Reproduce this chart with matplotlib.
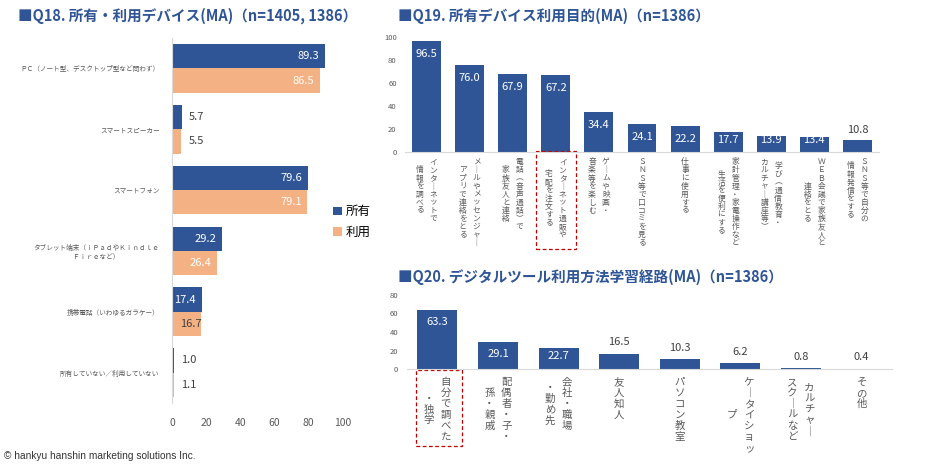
import matplotlib
matplotlib.use('Agg')
import numpy as np
import matplotlib.pyplot as plt
from matplotlib.patches import Rectangle
from matplotlib.transforms import blended_transform_factory

plt.rcParams['font.family'] = ['Noto Sans CJK JP', 'DejaVu Sans']

BLUE = '#2F5597'
ORANGE = '#F4B183'
GRAY = '#595959'
DARK = '#404040'
LINE = '#D9D9D9'

# Q18 data
devices = ['ＰＣ（ノート型、デスクトップ型など問わず）', 'スマートスピーカー', 'スマートフォン',
           'タブレット端末（ｉＰａｄやＫｉｎｄｌｅ\nＦｉｒｅなど）', '携帯電話（いわゆるガラケー）',
           '所有していない／利用していない']
own = [89.3, 5.7, 79.6, 29.2, 17.4, 1.0]
use = [86.5, 5.5, 79.1, 26.4, 16.7, 1.1]
series_names = ['所有', '利用']

# Q19 data (each label = vertical columns, right to left)
purposes = [['インターネットで', '情報を調べる'],
            ['メールやメッセンジャー', 'アプリで連絡をとる'],
            ['電話（音声通話）で', '家族友人と連絡'],
            ['インターネット通販や', '宅配を注文する'],
            ['ゲームや映画・', '音楽等を楽しむ'],
            ['ＳＮＳ等で口コミを見る'],
            ['仕事に使用する'],
            ['家計管理・家電操作など', '生活を便利にする'],
            ['学び（通信教育・', 'カルチャー講座等）'],
            ['ＷＥＢ会議で家族友人と', '連絡をとる'],
            ['ＳＮＳ等で自分の', '情報発信をする']]
purpose_pct = [96.5, 76.0, 67.9, 67.2, 34.4, 24.1, 22.2, 17.7, 13.9, 13.4, 10.8]

# Q20 data
routes = [['自分で調べた', '・独学'],
          ['配偶者・子・', '孫・親戚'],
          ['会社・職場', '・勤め先'],
          ['友人知人'],
          ['パソコン教室'],
          ['ケータイショッ', 'プ'],
          ['カルチャー', 'スクールなど'],
          ['その他']]
route_pct = [63.3, 29.1, 22.7, 16.5, 10.3, 6.2, 0.8, 0.4]

VERT = {'ー': '｜', '（': '︵', '）': '︶', '、': '︑'}


def vlabel(ax, x, lines, size, pitch, colgap, top):
    # tategaki: columns right to left, each column centred on the longest one
    n_max = max(len(s) for s in lines)
    ncol = len(lines)
    for j, line in enumerate(lines):
        dx = ((ncol - 1) / 2 - j) * colgap
        start = (n_max - len(line)) / 2
        for i, ch in enumerate(line):
            dy = -(top + (start + i) * pitch)
            ax.annotate(VERT.get(ch, ch), xy=(x, 0), xycoords=('data', 'axes fraction'),
                        xytext=(dx, dy), textcoords='offset points',
                        ha='center', va='center', fontsize=size, color=GRAY,
                        annotation_clip=False)


fig = plt.figure(figsize=(9.27, 4.66), dpi=100)
W, H = 927, 466

# ---------- Q18 ----------
ax1 = fig.add_axes([172 / W, 1 - 403 / H, 171 / W, 365 / H])
y = np.arange(len(devices))
b1 = ax1.barh(y - 0.2, own, height=0.4, color=BLUE, label=series_names[0])
b2 = ax1.barh(y + 0.2, use, height=0.4, color=ORANGE, label=series_names[1])
ax1.set_ylim(len(devices) - 0.5, -0.5)
ax1.set_xlim(0, 100)
ax1.set_yticks(y)
ax1.set_yticklabels(devices, fontsize=4.8, color=GRAY, multialignment='center')
ax1.set_xticks(range(0, 101, 20))
ax1.tick_params(axis='y', length=0, pad=9)
ax1.tick_params(axis='x', length=0, pad=11, labelsize=7.5, labelcolor=GRAY)
for s in ['top', 'right', 'bottom']:
    ax1.spines[s].set_visible(False)
ax1.spines['left'].set_color(LINE)

for bars, vals in [(b1, own), (b2, use)]:
    for bar, v in zip(bars, vals):
        yc = bar.get_y() + bar.get_height() / 2
        if v >= 17:
            ax1.annotate(f'{v:.1f}', (v, yc), xytext=(-4, 0), textcoords='offset points',
                         ha='right', va='center', color='white', fontsize=8)
        elif v >= 10:
            ax1.annotate(f'{v:.1f}', (v, yc), xytext=(1, 0), textcoords='offset points',
                         ha='right', va='center', color=DARK, fontsize=8)
        else:
            ax1.annotate(f'{v:.1f}', (v, yc), xytext=(5, 0), textcoords='offset points',
                         ha='left', va='center', color=DARK, fontsize=8)

fig.legend(handles=[b1, b2], loc='center left', bbox_to_anchor=(322 / W, 1 - 222 / H),
           frameon=False, fontsize=9, handlelength=0.7, handleheight=0.7,
           handletextpad=0.3, labelspacing=0.6)

# ---------- Q19 ----------
ax2 = fig.add_axes([405 / W, 1 - 152 / H, 474 / W, 115 / H])
x2 = np.arange(len(purpose_pct))
bars2 = ax2.bar(x2, purpose_pct, width=0.67, color=BLUE)
ax2.set_xlim(-0.5, len(purpose_pct) - 0.5)
ax2.set_ylim(0, 100)
ax2.set_yticks(range(0, 101, 20))
ax2.set_xticks([])
ax2.tick_params(axis='y', length=0, pad=6, labelsize=5.5, labelcolor=GRAY)
for s in ['top', 'right', 'left']:
    ax2.spines[s].set_visible(False)
ax2.spines['bottom'].set_color(LINE)
for i, v in enumerate(purpose_pct):
    if v >= 13:
        ax2.text(i, max(v - 11.3, 10.4), f'{v:.1f}', ha='center', va='center',
                 color='white', fontsize=8)
    else:
        ax2.annotate(f'{v:.1f}', (i, v), xytext=(0, 7), textcoords='offset points',
                     ha='center', va='center', color=DARK, fontsize=8)
    vlabel(ax2, i, purposes[i], size=5.6, pitch=5.8, colgap=10, top=7.5)
tr2 = blended_transform_factory(ax2.transData, ax2.transAxes)
ax2.add_patch(Rectangle((3 - 0.465, -0.843), 0.93, 0.853, transform=tr2, fill=False,
                        edgecolor='#C00000', linestyle=(0, (3, 2)), lw=0.9, clip_on=False))

# ---------- Q20 ----------
ax3 = fig.add_axes([407 / W, 1 - 369 / H, 485 / W, 74 / H])
x3 = np.arange(len(route_pct))
bars3 = ax3.bar(x3, route_pct, width=0.66, color=BLUE)
ax3.set_xlim(-0.5, len(route_pct) - 0.5)
ax3.set_ylim(0, 80)
ax3.set_yticks(range(0, 81, 20))
ax3.set_xticks([])
ax3.tick_params(axis='y', length=0, pad=6.5, labelsize=5.5, labelcolor=GRAY)
for s in ['top', 'right', 'left']:
    ax3.spines[s].set_visible(False)
ax3.spines['bottom'].set_color(LINE)
for i, v in enumerate(route_pct):
    if v >= 20:
        ax3.text(i, max(v - 13, 14), f'{v:.1f}', ha='center', va='center',
                 color='white', fontsize=8)
    else:
        ax3.annotate(f'{v:.1f}', (i, v), xytext=(0, 8.3), textcoords='offset points',
                     ha='center', va='center', color=DARK, fontsize=8)
    vlabel(ax3, i, routes[i], size=7.5, pitch=7.9, colgap=12.2, top=9.4)
tr3 = blended_transform_factory(ax3.transData, ax3.transAxes)
ax3.add_patch(Rectangle((0.03 - 0.38, -1.04), 0.76, 1.027, transform=tr3, fill=False,
                        edgecolor='#C00000', linestyle=(0, (3, 2)), lw=0.9, clip_on=False))

# ---------- titles ----------
fig.text(18 / W, 1 - 16 / H, '■Q18. 所有・利用デバイス(MA)（n=1405, 1386）', fontsize=10.5,
         fontweight='bold', color=BLUE, va='center')
fig.text(398 / W, 1 - 16 / H, '■Q19. 所有デバイス利用目的(MA)（n=1386）', fontsize=10.5,
         fontweight='bold', color=BLUE, va='center')
fig.text(398 / W, 1 - 277 / H, '■Q20. デジタルツール利用方法学習経路(MA)（n=1386）', fontsize=10.5,
         fontweight='bold', color=BLUE, va='center')
fig.text(4 / W, 1 - 456 / H, '© hankyu hanshin marketing solutions Inc.', fontsize=7.3,
         family='Liberation Sans', color='#333333', va='center')

fig.savefig('out.png', dpi=100)
